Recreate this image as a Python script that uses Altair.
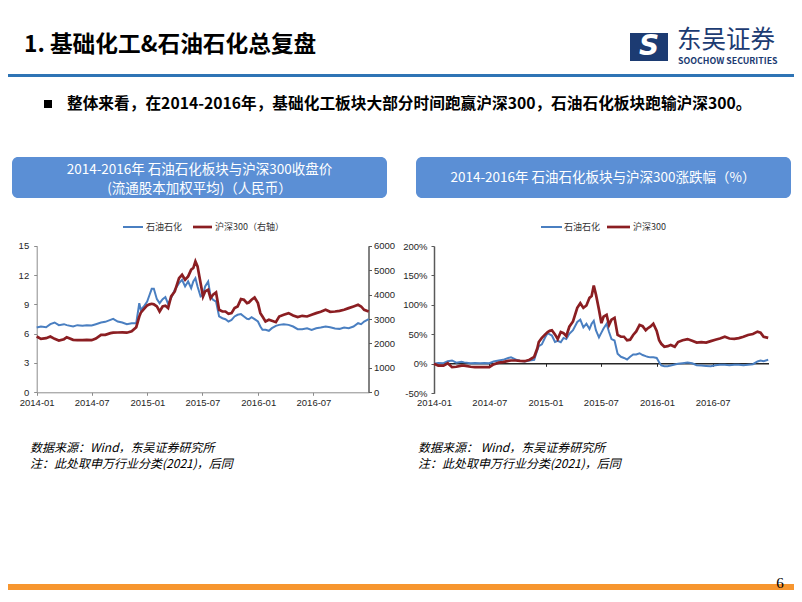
import altair as alt
import pandas as pd

# ---------------- data ----------------
dates = [
    "2014-01-01", "2014-01-15", "2014-02-01", "2014-02-15", "2014-03-01", "2014-03-15",
    "2014-04-01", "2014-04-10", "2014-05-01", "2014-05-15", "2014-06-01", "2014-06-15",
    "2014-07-01", "2014-07-15", "2014-08-01", "2014-08-15", "2014-09-01", "2014-09-10",
    "2014-09-25", "2014-10-10", "2014-10-25", "2014-11-10", "2014-11-25", "2014-12-05",
    "2014-12-10", "2014-12-20", "2014-12-31", "2015-01-08", "2015-01-15", "2015-01-22",
    "2015-02-01", "2015-02-10", "2015-02-20", "2015-03-01", "2015-03-10", "2015-03-20",
    "2015-04-01", "2015-04-15", "2015-04-25", "2015-05-05", "2015-05-15", "2015-05-25",
    "2015-06-01", "2015-06-08", "2015-06-15", "2015-06-25", "2015-07-03", "2015-07-10",
    "2015-07-20", "2015-07-28", "2015-08-05", "2015-08-15", "2015-08-25", "2015-09-05",
    "2015-09-15", "2015-09-25", "2015-10-05", "2015-10-15", "2015-10-25", "2015-11-05",
    "2015-11-15", "2015-11-25", "2015-12-01", "2015-12-10", "2015-12-20", "2015-12-31",
    "2016-01-08", "2016-01-15", "2016-01-25", "2016-02-05", "2016-02-15", "2016-02-28",
    "2016-03-10", "2016-03-25", "2016-04-10", "2016-04-25", "2016-05-10", "2016-05-25",
    "2016-06-10", "2016-06-25", "2016-07-10", "2016-07-25", "2016-08-10", "2016-08-25",
    "2016-09-10", "2016-09-25", "2016-10-10", "2016-10-25", "2016-11-10", "2016-11-25",
    "2016-12-05", "2016-12-15", "2016-12-30",
]

shihua_close = [
    6.63, 6.73, 6.66, 6.97, 7.14, 6.87, 6.97, 6.87, 6.73, 6.87, 6.80, 6.87,
    6.83, 6.97, 7.14, 7.21, 7.41, 7.52, 7.24, 7.14, 6.97, 7.07, 7.07, 9.12,
    8.44, 8.78, 9.29, 9.98, 10.59, 10.59, 9.53, 9.12, 9.53, 9.74, 9.05, 9.63,
    10.49, 11.17, 11.51, 10.83, 11.34, 10.66, 11.34, 11.68, 10.83, 9.81, 9.98, 10.83,
    11.34, 9.81, 9.46, 9.29, 7.76, 7.58, 7.48, 7.24, 7.41, 7.76, 7.93, 8.00,
    7.76, 7.52, 7.48, 7.69, 7.48, 7.24, 6.73, 6.39, 6.39, 6.29, 6.56, 6.80,
    6.90, 6.97, 6.90, 6.73, 6.46, 6.46, 6.56, 6.39, 6.56, 6.63, 6.73, 6.66,
    6.53, 6.49, 6.63, 6.56, 6.73, 7.07, 6.97, 7.24, 7.48,
]

hs300_close = [
    2283, 2187, 2215, 2283, 2187, 2119, 2174, 2255, 2146, 2132, 2132, 2146,
    2132, 2200, 2351, 2351, 2420, 2440, 2447, 2455, 2440, 2500, 2666, 3100,
    3260, 3400, 3554, 3600, 3622, 3600, 3513, 3308, 3513, 3540, 3445, 3923,
    4128, 4675, 4812, 4607, 4743, 5017, 5085, 5359, 5154, 4470, 3923, 4128,
    4197, 3855, 3992, 4087, 3376, 3308, 3308, 3212, 3240, 3445, 3513, 3814,
    3787, 3650, 3677, 3787, 3882, 3650, 3240, 3103, 2898, 2966, 2925, 2870,
    3103, 3171, 3240, 3144, 3076, 3130, 3103, 3171, 3240, 3294, 3376, 3294,
    3308, 3335, 3376, 3445, 3513, 3581, 3513, 3376, 3308,
]

shihua_chg = [
    0, 1.5, 1, 4.5, 5.7, 2, 3.4, 2.5, 1.1, 1.5, 1.1, 1.5,
    1.1, 4, 5.7, 6.8, 10, 11, 7.5, 5, 4, 5.7, 6.8, 23,
    30, 33, 45, 52, 50, 48, 37, 39, 36.7, 44, 42, 51,
    57, 71, 75, 62, 68, 59, 68, 73, 57, 45, 53, 60,
    68, 54, 42, 39.5, 17, 12, 10, 7.4, 12, 15.8, 15.8, 18,
    15, 13, 12, 11, 11, 10, 2.8, -2.8, -4, -4, -2.8, -1,
    0, 1.1, 2.3, 1, -2.3, -2.8, -3.5, -4, -2.3, -1.7, -1.7, -2.3,
    -1.7, -1.7, -2.3, -1.5, -0.6, 4, 5.7, 4.5, 6.8,
]

hs300_chg = [
    0, -3, -3, 1, -5.7, -5, -3, -3, -5, -5.7, -5.7, -5.7,
    -5.7, -1, 2, 3, 5, 5.7, 5.7, 5, 4.5, 7, 12, 26,
    37, 44, 50, 54, 56, 57, 50, 42, 54, 52, 47, 63,
    72, 95, 103, 95, 99, 112, 115, 133, 118, 92, 69, 80,
    83, 66, 75, 78, 49, 46, 46, 40, 41, 49, 55, 66,
    64, 57, 60, 63, 68, 56, 40, 34, 29, 30, 32, 29,
    37, 40, 42, 39, 36, 37, 36, 38.5, 41, 43, 46, 43,
    42.5, 43.7, 46, 49, 50.6, 54.6, 53, 46, 44,
]

x_tick_dates = ["2014-01-01", "2014-07-01", "2015-01-01", "2015-07-01", "2016-01-01", "2016-07-01"]
price_ticks = [0, 3, 6, 9, 12, 15]
index_ticks = [0, 1000, 2000, 3000, 4000, 5000, 6000]
chg_ticks = [-50, 0, 50, 100, 150, 200]

series_names = ["石油石化", "沪深300（右轴）", "沪深300"]

# ---------------- layout ----------------
W, H = 786, 582
M = 8  # page margin


def X(sx):
    return sx - M


def Y(sy):
    return sy - M


def ms(s):
    return int(pd.Timestamp(s).value // 1_000_000)


BLUE = "#4A7FC1"
RED = "#8B1E22"
BOX = "#5B8FD5"
NAVY = "#1C3B72"
LABEL_FONT = "Liberation Sans"
CJK = "Noto Sans CJK SC"

df = pd.DataFrame({
    "date": dates,
    "shihua_close": shihua_close,
    "hs300_close": hs300_close,
    "shihua_chg": shihua_chg,
    "hs300_chg": hs300_chg,
})

tick_ms = [ms(d) for d in x_tick_dates]
dom_ms = [ms("2014-01-01"), ms("2016-12-31")]

axis_style = dict(grid=False, title=None, labelFont=LABEL_FONT, labelFontSize=9.5,
                  labelColor="#262626", labelFlush=False, labelOverlap=False)

# ----- left chart -----
xL = alt.Scale(type="utc", domain=dom_ms, range=[X(36.7), X(369)])
left_blue = alt.Chart(df).mark_line(color=BLUE, strokeWidth=2).encode(
    x=alt.X("date:T", scale=xL,
            axis=alt.Axis(orient="bottom", offset=Y(392.3) - H, values=tick_ms, format="%Y-%m",
                          tickSize=3, labelPadding=2, domainColor="#8C8C8C", tickColor="#8C8C8C",
                          labelAngle=0, **axis_style)),
    y=alt.Y("shihua_close:Q",
            scale=alt.Scale(domain=[0, 15], range=[Y(392.3), Y(245.7)], nice=False, zero=False),
            axis=alt.Axis(orient="left", offset=-X(36.7), values=price_ticks, tickSize=3,
                          labelPadding=5, domainColor="#8C8C8C", tickColor="#8C8C8C", **axis_style)),
)
left_red = alt.Chart(df).mark_line(color=RED, strokeWidth=2.7).encode(
    x=alt.X("date:T", scale=xL, axis=None),
    y=alt.Y("hs300_close:Q",
            scale=alt.Scale(domain=[0, 6000], range=[Y(392.3), Y(245.7)], nice=False, zero=False),
            axis=alt.Axis(orient="right", offset=X(368.5) - W, values=index_ticks, format="d",
                          tickSize=3, labelPadding=2, domainColor="#595959", tickColor="#595959",
                          domainWidth=1.5, **axis_style)),
)

# ----- right chart -----
xR = alt.Scale(type="utc", domain=dom_ms, range=[X(434), X(768.5)])
yR = alt.Scale(domain=[-50, 200], range=[Y(393.3), Y(246)], nice=False, zero=False)
right_blue = alt.Chart(df).mark_line(color=BLUE, strokeWidth=2).encode(
    x=alt.X("date:T", scale=xR,
            axis=alt.Axis(orient="bottom", offset=Y(363.3) - H, values=tick_ms, format="%Y-%m",
                          tickSize=3, labelPadding=31, domainColor="#262626", tickColor="#262626",
                          domainWidth=1.5, labelAngle=0, **axis_style)),
    y=alt.Y("shihua_chg:Q", scale=yR,
            axis=alt.Axis(orient="left", offset=-X(434), values=chg_ticks, tickSize=3,
                          labelPadding=4, labelExpr="datum.value + '%'", domainColor="#595959",
                          tickColor="#595959", domainWidth=1.5, **axis_style)),
)
right_red = alt.Chart(df).mark_line(color=RED, strokeWidth=2.7).encode(
    x=alt.X("date:T", scale=xR, axis=None),
    y=alt.Y("hs300_chg:Q", scale=yR, axis=None),
)

# ----- decorations -----
px = dict(scale=None, axis=None)


def rects(rows, **kw):
    d = pd.DataFrame(rows, columns=["x", "x2", "y", "y2", "fill"])
    d["x"] = d["x"].map(X); d["x2"] = d["x2"].map(X)
    d["y"] = d["y"].map(Y); d["y2"] = d["y2"].map(Y)
    return alt.Chart(d).mark_rect(**kw).encode(
        x=alt.X("x:Q", **px), x2="x2:Q", y=alt.Y("y:Q", **px), y2="y2:Q",
        color=alt.Color("fill:N", scale=None))


def texts(rows, **kw):
    d = pd.DataFrame(rows, columns=["x", "y", "t"])
    d["x"] = d["x"].map(X); d["y"] = d["y"].map(Y)
    return alt.Chart(d).mark_text(baseline="middle", **kw).encode(
        x=alt.X("x:Q", **px), y=alt.Y("y:Q", **px), text="t:N")


def segs(rows, color, width):
    d = pd.DataFrame(rows, columns=["x", "x2", "y"])
    d["x"] = d["x"].map(X); d["x2"] = d["x2"].map(X); d["y"] = d["y"].map(Y)
    return alt.Chart(d).mark_rule(color=color, strokeWidth=width).encode(
        x=alt.X("x:Q", **px), x2="x2:Q", y=alt.Y("y:Q", **px))


plain_rects = rects([
    (0, 802, 74, 77, "#2E74B5"),
    (0, 802, 584, 602, "#F7962F"),
    (630, 668, 33, 61, NAVY),
    (44, 52, 100, 108, "#000000"),
])
title_boxes = rects([
    (12, 387, 157, 198, BOX),
    (416, 791, 157, 198, BOX),
], cornerRadius=6)

heading = texts([(24, 45, "1. 基础化工&石油石化总复盘")],
                font=CJK, fontSize=22.7, fontWeight="bold", align="left", color="#000000")
bullet = texts([(67, 104, "整体来看，在2014-2016年，基础化工板块大部分时间跑赢沪深300，石油石化板块跑输沪深300。")],
               font=CJK, fontSize=15.7, fontWeight="bold", align="left", color="#000000")
box_titles = texts([
    (199.5, 170, "2014-2016年 石油石化板块与沪深300收盘价"),
    (199.5, 189, "(流通股本加权平均)（人民币）"),
    (603, 178, "2014-2016年 石油石化板块与沪深300涨跌幅（%）"),
], font=CJK, fontSize=13.5, align="center", color="#FFFFFF")
legend_text = texts([
    (146, 227, series_names[0]),
    (215, 227, series_names[1]),
    (564, 227, series_names[0]),
    (633, 227, series_names[2]),
], font=CJK, fontSize=9, align="left", color="#333333")
legend_blue = segs([(123, 143, 227), (541, 562, 227)], BLUE, 2)
legend_red = segs([(193, 212, 227), (607, 630, 227)], RED, 2.7)
notes = texts([
    (30, 448, "数据来源：Wind，东吴证券研究所"),
    (30, 464, "注：此处取申万行业分类(2021)，后同"),
    (418, 448, "数据来源： Wind，东吴证券研究所"),
    (418, 464, "注：此处取申万行业分类(2021)，后同"),
], font=CJK, fontSize=12, fontStyle="italic", align="left", color="#000000")
page_no = texts([(780, 583, "6")], font="Liberation Serif", fontSize=15, align="center", color="#000000")
logo_cn = texts([(677, 41, "东吴证券")], font=CJK, fontSize=24.5, align="left", color=NAVY)
logo_en = texts([(678, 61, "SOOCHOW SECURITIES")], font=CJK, fontSize=8.8, fontWeight="bold",
                align="left", color=NAVY)
logo_s = texts([(649, 47, "S")], font="DejaVu Sans", fontSize=28, fontWeight="bold",
               fontStyle="italic", align="center", color="#FFFFFF")

chart = alt.layer(
    plain_rects, title_boxes, heading, bullet, box_titles, legend_blue, legend_red, legend_text,
    notes, page_no, logo_cn, logo_en, logo_s,
    left_blue, left_red, right_blue, right_red,
).resolve_scale(
    x="independent", y="independent"
).resolve_axis(
    x="independent", y="independent"
).properties(
    width=W, height=H, padding=0, autosize=alt.AutoSizeParams(type="none"),
    background="#FFFFFF",
).configure_view(strokeWidth=0)

chart.save("out.html", embed_options={"renderer": "svg", "actions": False})
